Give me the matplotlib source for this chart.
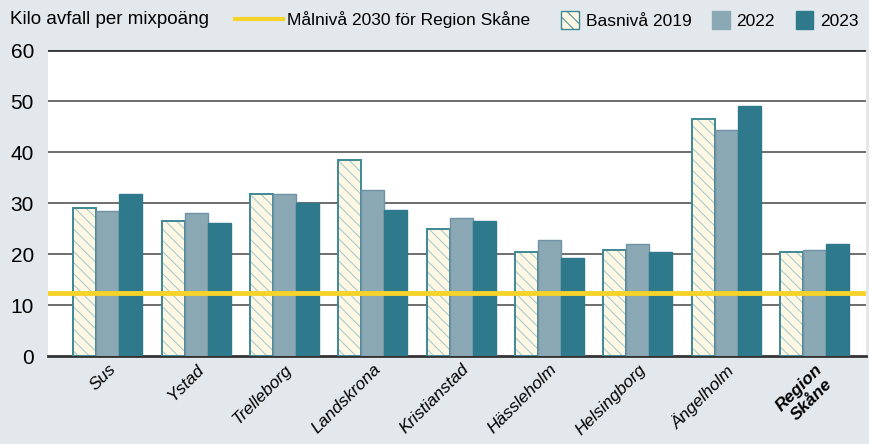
import numpy as np
import matplotlib.pyplot as plt
from matplotlib.patches import Patch
from matplotlib.lines import Line2D

plt.rcParams['font.family'] = ['Liberation Sans', 'DejaVu Sans']
plt.rcParams['hatch.linewidth'] = 0.7

# data
kommuner = ['Sus', 'Ystad', 'Trelleborg', 'Landskrona', 'Kristianstad',
            'Hässleholm', 'Helsingborg', 'Ängelholm', 'Region\nSkåne']
bas_2019 = [29.0, 26.5, 31.8, 38.4, 24.9, 20.4, 20.8, 46.5, 20.4]
v_2022 = [28.4, 28.0, 31.8, 32.5, 27.1, 22.7, 22.0, 44.3, 20.8]
v_2023 = [31.8, 26.1, 30.0, 28.6, 26.5, 19.2, 20.4, 49.0, 22.0]
malniva = 12.4

bg = '#e3e8ec'
c_2019 = '#fdf7e3'
c_2022 = '#8ba8b5'
c_2023 = '#2e7a8c'
c_edge = '#3f8896'
c_gul = '#f6d32a'

fig = plt.figure(figsize=(8.7, 4.44), dpi=100, facecolor=bg)
ax = fig.add_axes([0.055, 0.198, 0.94, 0.689])
ax.set_facecolor('white')

x = np.arange(len(kommuner))
w = 0.26
ax.bar(x - w, bas_2019, w, color=c_2019, edgecolor=c_edge, linewidth=1.4,
       hatch='\\\\\\', zorder=3)
ax.bar(x, v_2022, w, color=c_2022, edgecolor='#6f93a2', linewidth=1.0, zorder=3)
ax.bar(x + w, v_2023, w, color=c_2023, edgecolor=c_2023, linewidth=1.0, zorder=3)
for p in ax.patches[:len(kommuner)]:
    p._hatch_color = (0.62, 0.78, 0.80, 1.0)

ax.axhline(malniva, color=c_gul, linewidth=3.5, zorder=4)

ax.set_ylim(0, 60)
ax.set_xlim(-0.68, 8.58)
ax.set_yticks(range(0, 61, 10))
ax.tick_params(axis='y', length=0, labelsize=15, pad=10)
ax.tick_params(axis='x', length=0, pad=4)
for y in range(10, 61, 10):
    ax.axhline(y, color='#555555' if y < 60 else '#333333',
               linewidth=1.2 if y < 60 else 2.0, zorder=1)
for s in ['top', 'right', 'left']:
    ax.spines[s].set_visible(False)
ax.spines['bottom'].set_linewidth(2.0)
ax.spines['bottom'].set_color('#333333')

ax.set_xticks(x)
ax.set_xticklabels(kommuner, rotation=45, ha='right', rotation_mode='anchor',
                   fontsize=12.5, style='italic')
lbl = ax.get_xticklabels()[-1]
lbl.set_fontweight('bold')
lbl.set_multialignment('center')

fig.text(0.012, 0.955, 'Kilo avfall per mixpoäng', fontsize=13.5, va='center')

# legend: line entry and bar entries as two groups
fig.legend([Line2D([0, 1], [0, 0], color=c_gul, linewidth=3)],
           ['Målnivå 2030 för Region Skåne'], loc='center left',
           bbox_to_anchor=(0.252, 0.955), frameon=False, fontsize=12.5,
           handlelength=2.8, handletextpad=0.2)
handles = [
    Patch(facecolor=c_2019, edgecolor=c_edge, hatch='\\\\\\'),
    Patch(facecolor=c_2022, edgecolor=c_2022),
    Patch(facecolor=c_2023, edgecolor=c_2023),
]
labels = ['Basnivå 2019', '2022', '2023']
fig.legend(handles, labels, ncol=3, loc='center right',
           bbox_to_anchor=(1.005, 0.955), frameon=False, fontsize=12.5,
           handlelength=1.0, handleheight=1.3, handletextpad=0.4,
           columnspacing=1.2)

fig.savefig('out.png', dpi=100, facecolor=bg)
